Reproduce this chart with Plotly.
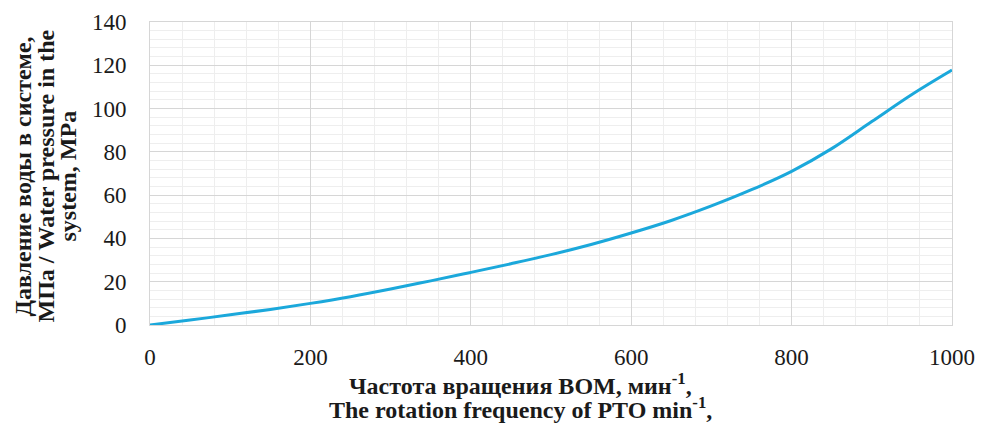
import plotly.graph_objects as go

rpm = [0, 50, 100, 150, 200, 250, 300, 350, 400, 450, 500, 550, 600, 650, 700, 750, 800, 850, 900, 950, 1000]
pressure = [0, 2.3, 4.7, 7.2, 10.0, 13.1, 16.6, 20.4, 24.3, 28.3, 32.5, 37.2, 42.5, 48.3, 55.0, 62.5, 71.0, 81.5, 94.0, 106.5, 117.8]

x_title_lines = ["<b>Частота вращения ВОМ, мин<sup>-1</sup>,</b>",
                 "<b>The rotation frequency of PTO min<sup>-1</sup>,</b>"]
y_title_lines = ["<b>Давление воды в системе,</b>",
                 "<b>МПа / Water pressure in the</b>",
                 "<b>system, MPa</b>"]

FAM = "Liberation Serif, Times New Roman, serif"
TXT = "#1a1a1a"

fig = go.Figure()
fig.add_trace(go.Scatter(x=rpm, y=pressure, mode="lines",
                         line=dict(color="#1BA8DB", width=3, shape="spline", smoothing=1),
                         showlegend=False, hoverinfo="skip"))

fig.update_layout(
    width=981, height=430,
    margin=dict(l=150, r=29, t=22, b=105),
    paper_bgcolor="white", plot_bgcolor="white",
    font=dict(family=FAM, color=TXT, size=23),
    xaxis=dict(range=[0, 1000], dtick=200, tick0=0, showgrid=True,
               gridcolor="#d6d6d6", gridwidth=1,
               minor=dict(dtick=40, showgrid=True, gridcolor="#eeeeee", gridwidth=1),
               showline=True, linecolor="#d6d6d6", mirror=True, automargin=False,
               zeroline=False, ticks="", tickfont=dict(size=23, family=FAM, color=TXT),
               ticklabelstandoff=11, ticklabeloverflow="allow"),
    yaxis=dict(range=[0, 140], dtick=20, tick0=0, showgrid=True,
               gridcolor="#d6d6d6", gridwidth=1,
               minor=dict(dtick=4, showgrid=True, gridcolor="#eeeeee", gridwidth=1),
               showline=True, linecolor="#d6d6d6", mirror=True, automargin=False,
               zeroline=False, ticks="", tickfont=dict(size=23, family=FAM, color=TXT),
               ticklabelstandoff=18, ticklabeloverflow="allow"),
)

for line, ys in zip(x_title_lines, [-59, -83]):
    fig.add_annotation(text=line, xref="paper", yref="paper", x=0.5, y=0,
                       xanchor="center", yanchor="middle", xshift=-31, yshift=ys,
                       showarrow=False, font=dict(family=FAM, size=24, color=TXT))

for line, xs in zip(y_title_lines, [-128, -105, -83]):
    fig.add_annotation(text=line, xref="paper", yref="paper", x=0, y=0.5,
                       xanchor="center", yanchor="middle", xshift=xs, yshift=-3,
                       textangle=-90, showarrow=False,
                       font=dict(family=FAM, size=24, color=TXT))

fig.write_html("out.html", config={"displayModeBar": False},
               post_script="document.body.style.margin='0';document.body.style.overflow='hidden';")
